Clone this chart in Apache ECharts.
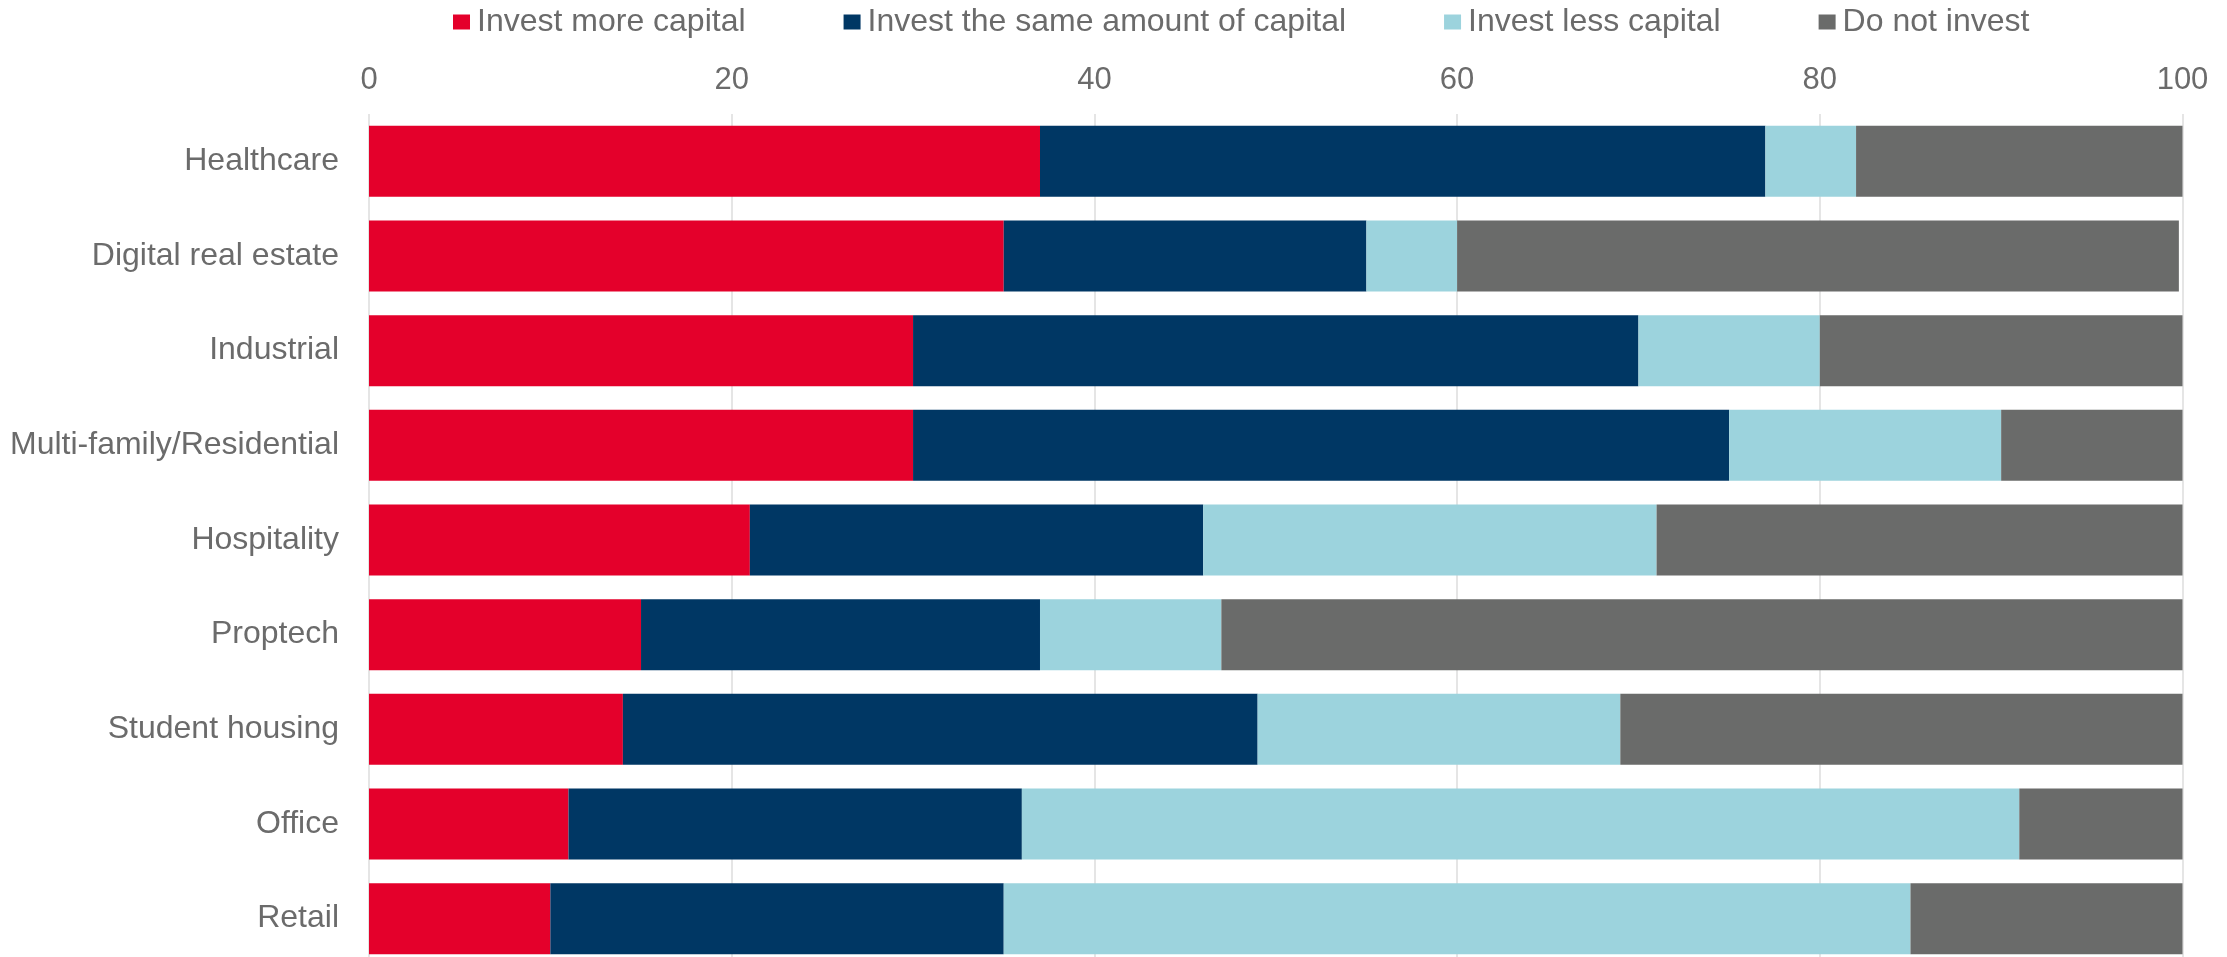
<!DOCTYPE html>
<html>
<head>
<meta charset="utf-8">
<title>Capital allocation intentions by sector</title>
<script src="https://cdn.jsdelivr.net/npm/echarts@6/dist/echarts.min.js"></script>
<style>
  html, body { margin: 0; padding: 0; background: #ffffff; }
  #chart { width: 2227px; height: 957px; }
</style>
</head>
<body>
<div id="chart"></div>
<script>
// Sectors, top to bottom
const sectors = [
  'Healthcare',
  'Digital real estate',
  'Industrial',
  'Multi-family/Residential',
  'Hospitality',
  'Proptech',
  'Student housing',
  'Office',
  'Retail'
];

// Share of respondents (%) per sector for each answer
const investMore = [37, 35, 30, 30, 21, 15, 14, 11, 10];
const investSame = [40, 20, 40, 45, 25, 22, 35, 25, 25];
const investLess = [5, 5, 10, 15, 25, 10, 20, 55, 50];
const doNotInvest = [18, 39.8, 20, 10, 29, 53, 31, 9, 15];

const seriesNames = [
  'Invest more capital',
  'Invest the same amount of capital',
  'Invest less capital',
  'Do not invest'
];

// Percentage axis ticks
const axisMin = 0;
const axisMax = 100;
const axisStep = 20;

const palette = ['#E4002B', '#003764', '#9CD3DD', '#6A6B6A'];
const textColor = '#6B6B6B';
const fontFamily = '"Liberation Sans", Arial, Helvetica, sans-serif';

const seriesValues = [investMore, investSame, investLess, doNotInvest];

const chart = echarts.init(document.getElementById('chart'), null, { renderer: 'canvas' });

chart.setOption({
  animation: false,
  backgroundColor: '#ffffff',
  color: palette,
  textStyle: { fontFamily: fontFamily },
  legend: {
    left: 453,
    top: 6,
    padding: 0,
    icon: 'rect',
    itemWidth: 17,
    itemHeight: 15,
    itemGap: 98,
    selectedMode: false,
    textStyle: {
      fontSize: 32,
      color: textColor,
      fontFamily: fontFamily,
      padding: [0, 0, 0, 2]
    },
    data: seriesNames
  },
  // The last band runs slightly past the lower edge of the page
  grid: {
    left: 369,
    right: 44.5,
    top: 114,
    height: 852,
    containLabel: false,
    outerBoundsMode: 'none'
  },
  xAxis: {
    type: 'value',
    position: 'top',
    min: axisMin,
    max: axisMax,
    interval: axisStep,
    axisLine: { show: false },
    axisTick: { show: false },
    axisLabel: {
      fontSize: 31,
      color: textColor,
      fontFamily: fontFamily,
      margin: 18
    },
    splitLine: {
      show: true,
      lineStyle: { color: '#DCDCDC', width: 1.5 }
    }
  },
  yAxis: {
    type: 'category',
    inverse: true,
    data: sectors,
    axisLine: { show: false },
    axisTick: { show: false },
    axisLabel: {
      fontSize: 32,
      color: textColor,
      fontFamily: fontFamily,
      margin: 30
    },
    splitLine: { show: false }
  },
  series: seriesNames.map((name, i) => ({
    name: name,
    type: 'bar',
    stack: 'share',
    barCategoryGap: '25%',
    data: seriesValues[i],
    itemStyle: { color: palette[i] },
    emphasis: { disabled: true },
    label: { show: false }
  }))
});
</script>
</body>
</html>
